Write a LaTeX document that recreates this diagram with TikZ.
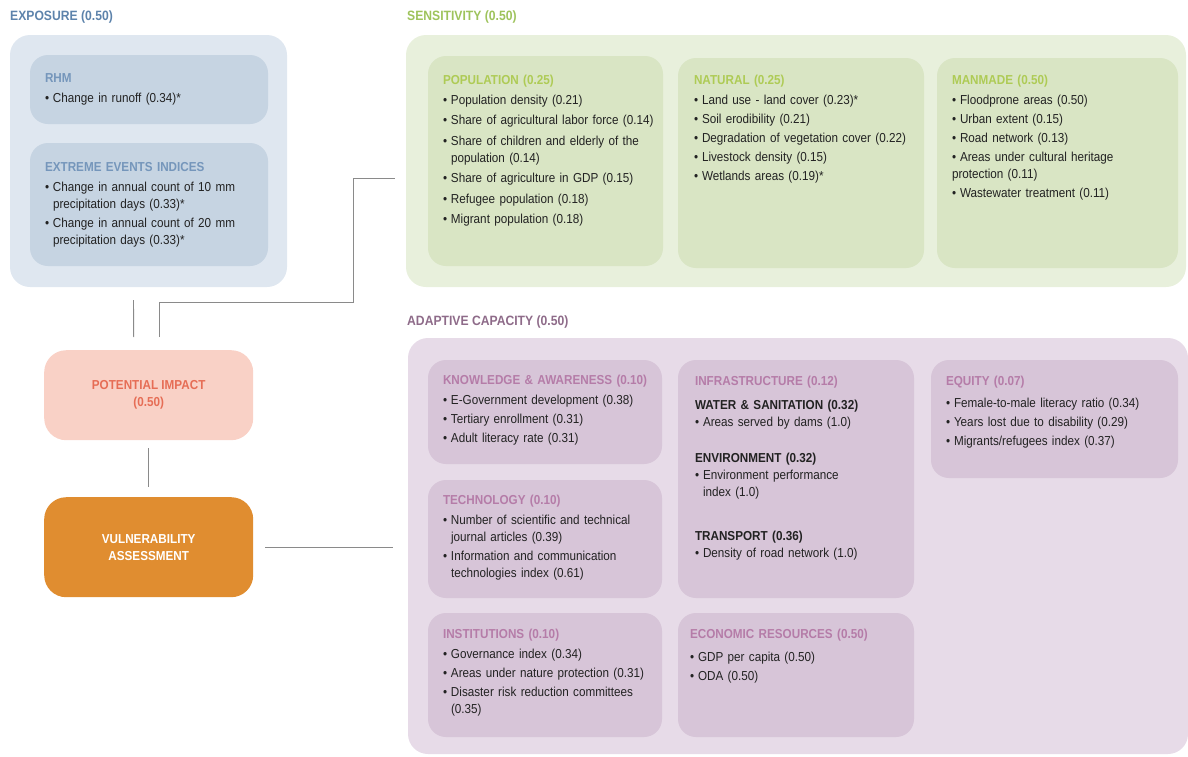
\documentclass[tikz,border=0pt]{standalone}
\usepackage{fontspec}
\setmainfont{Liberation Sans}[FakeStretch=0.9]
\setlength{\parindent}{0pt}
\setlength{\parskip}{0pt}
\definecolor{expoOut}{HTML}{DFE7F0}
\definecolor{expoIn}{HTML}{C6D4E2}
\definecolor{expoTitle}{HTML}{5D83AB}
\definecolor{expoSub}{HTML}{7596BB}
\definecolor{sensOut}{HTML}{E8F0DC}
\definecolor{sensIn}{HTML}{D9E5C4}
\definecolor{sensTitle}{HTML}{9EC35C}
\definecolor{sensSub}{HTML}{AECB55}
\definecolor{adOut}{HTML}{E7DBE8}
\definecolor{adIn}{HTML}{D7C5D8}
\definecolor{adTitle}{HTML}{8E6B89}
\definecolor{adSub}{HTML}{B57CA8}
\definecolor{potFill}{HTML}{F9D1C6}
\definecolor{potText}{HTML}{E66D55}
\definecolor{vulFill}{HTML}{E08D30}
\definecolor{txtc}{HTML}{222222}
\definecolor{connc}{HTML}{8A8A8A}
\newlength{\itemgap}
\setlength{\itemgap}{2pt}
\newcommand{\itm}[1]{\par\hangindent=8pt\hangafter=1\makebox[8pt][l]{\textbullet}#1\par\vspace{\itemgap}}
\newcommand{\itmflat}[1]{\par\makebox[8pt][l]{\textbullet}#1\par\vspace{\itemgap}}
\newcommand{\ttl}[2]{{\bfseries\color{#1}#2}\par\vspace{3pt}}
\tikzset{
  panel/.style={anchor=north west, rounded corners=20pt, inner sep=0pt, outer sep=0pt},
  card/.style={anchor=north west, rounded corners=18pt, inner sep=0pt, outer sep=0pt},
  body/.style={anchor=north west, inner sep=0pt, outer sep=0pt, align=left, text=txtc,
    font=\fontsize{13}{17}\selectfont},
  head/.style={anchor=west, inner sep=0pt, font=\fontsize{13.5}{15}\selectfont\bfseries},
  conn/.style={draw=connc, line width=0.9pt},
  bigbox/.style={anchor=north west, rounded corners=22pt, inner sep=0pt},
  biglabel/.style={font=\fontsize{13}{17}\selectfont\bfseries, align=center, inner sep=0pt}
}
\begin{document}
\begin{tikzpicture}[x=1pt,y=-1pt]
\useasboundingbox (0,0) rectangle (1188,756);

% ---------- EXPOSURE ----------
\node[head, text=expoTitle] (expoH) at (10,17) {EXPOSURE (0.50)};
\node[panel, fill=expoOut, minimum width=277pt, minimum height=252pt] (expo) at (10,35) {};
\node[card, fill=expoIn, minimum width=238pt, minimum height=69pt] (rhm) at (30,55) {};
\node[card, fill=expoIn, minimum width=238pt, minimum height=123pt] (ext) at (30,143) {};
\node[body, text width=215pt] (rhmT) at (45,74) {\ttl{expoSub}{RHM}\itm{Change in runoff (0.34)*}};
\node[body, text width=215pt] (extT) at (45,162) {\ttl{expoSub}{EXTREME EVENTS INDICES}%
\itm{Change in annual count of 10 mm\newline precipitation days (0.33)*}%
\itm{Change in annual count of 20 mm\newline precipitation days (0.33)*}};

% ---------- SENSITIVITY ----------
\node[head, text=sensTitle] (sensH) at (407,17) {SENSITIVITY (0.50)};
\node[panel, fill=sensOut, minimum width=780pt, minimum height=252pt] (sens) at (406,35) {};
\node[card, fill=sensIn, minimum width=235pt, minimum height=210pt] (pop) at (428,56) {};
\node[card, fill=sensIn, minimum width=246pt, minimum height=210pt] (nat) at (678,58) {};
\node[card, fill=sensIn, minimum width=241pt, minimum height=210pt] (man) at (937,58) {};
\node[body, text width=215pt] (popT) at (443,75) {\setlength{\itemgap}{3.5pt}\ttl{sensSub}{POPULATION (0.25)}%
\itm{Population density (0.21)}%
\itm{Share of agricultural labor force (0.14)}%
\itm{Share of children and elderly of the\newline population (0.14)}%
\itm{Share of agriculture in GDP (0.15)}%
\itm{Refugee population (0.18)}%
\itm{Migrant population (0.18)}};
\node[body, text width=225pt] (natT) at (694,75) {\ttl{sensSub}{NATURAL (0.25)}%
\itm{Land use - land cover (0.23)*}%
\itm{Soil erodibility (0.21)}%
\itm{Degradation of vegetation cover (0.22)}%
\itm{Livestock density (0.15)}%
\itm{Wetlands areas (0.19)*}};
\node[body, text width=220pt] (manT) at (952,75) {\ttl{sensSub}{MANMADE (0.50)}%
\itm{Floodprone areas (0.50)}%
\itm{Urban extent (0.15)}%
\itm{Road network (0.13)}%
\itmflat{Areas under cultural heritage\newline protection (0.11)}%
\itm{Wastewater treatment (0.11)}};

% ---------- ADAPTIVE CAPACITY ----------
\node[head, text=adTitle] (adH) at (407,322) {ADAPTIVE CAPACITY (0.50)};
\node[panel, fill=adOut, minimum width=780pt, minimum height=416pt] (adapt) at (408,338) {};
\node[card, fill=adIn, minimum width=234pt, minimum height=104pt] (know) at (428,360) {};
\node[card, fill=adIn, minimum width=234pt, minimum height=118pt] (tech) at (428,480) {};
\node[card, fill=adIn, minimum width=234pt, minimum height=124pt] (inst) at (428,613) {};
\node[card, fill=adIn, minimum width=236pt, minimum height=238pt] (infra) at (678,360) {};
\node[card, fill=adIn, minimum width=236pt, minimum height=124pt] (econ) at (678,613) {};
\node[card, fill=adIn, minimum width=247pt, minimum height=118pt] (equ) at (931,360) {};
\node[body, text width=215pt] (knowT) at (443,375) {\ttl{adSub}{KNOWLEDGE \& AWARENESS (0.10)}%
\itm{E-Government development (0.38)}%
\itm{Tertiary enrollment (0.31)}%
\itm{Adult literacy rate (0.31)}};
\node[body, text width=215pt] (techT) at (443,495) {\ttl{adSub}{TECHNOLOGY (0.10)}%
\itm{Number of scientific and technical\newline journal articles (0.39)}%
\itm{Information and communication\newline technologies index (0.61)}};
\node[body, text width=215pt] (instT) at (443,629) {\ttl{adSub}{INSTITUTIONS (0.10)}%
\itm{Governance index (0.34)}%
\itm{Areas under nature protection (0.31)}%
\itm{Disaster risk reduction committees\newline (0.35)}};
\node[body, text width=215pt] (infraT) at (695,376) {\ttl{adSub}{INFRASTRUCTURE (0.12)}\vspace{4pt}%
{\bfseries WATER \& SANITATION (0.32)}\par
\itm{Areas served by dams (1.0)}\vspace{17pt}%
{\bfseries ENVIRONMENT (0.32)}\par
\itm{Environment performance\newline index (1.0)}\vspace{25pt}%
{\bfseries TRANSPORT (0.36)}\par
\itm{Density of road network (1.0)}};
\node[body, text width=215pt] (econT) at (690,629) {\ttl{adSub}{ECONOMIC RESOURCES (0.50)}\vspace{3pt}%
\itm{GDP per capita (0.50)}%
\itm{ODA (0.50)}};
\node[body, text width=225pt] (equT) at (946,376) {\ttl{adSub}{EQUITY (0.07)}\vspace{2pt}%
\itm{Female-to-male literacy ratio (0.34)}%
\itm{Years lost due to disability (0.29)}%
\itm{Migrants/refugees index (0.37)}};

% ---------- LEFT COLUMN ----------
\node[bigbox, fill=potFill, minimum width=209pt, minimum height=90pt] (pot) at (44,350) {};
\node[biglabel, text=potText] (potL) at (pot.center) {POTENTIAL IMPACT\\(0.50)};
\node[bigbox, fill=vulFill, minimum width=209pt, minimum height=100pt] (vul) at (44,497) {};
\node[biglabel, text=white] (vulL) at (vul.center) {VULNERABILITY\\ASSESSMENT};

% ---------- CONNECTORS ----------
\coordinate (bend) at (353,302);
\draw[conn] ([xshift=-15pt,yshift=-13pt]expo.south) -- ([xshift=-15pt,yshift=13pt]pot.north);
\draw[conn] ([xshift=11pt,yshift=13pt]pot.north) |- (bend) |- ([xshift=-11pt,yshift=-17pt]sens.west);
\draw[conn] ([yshift=-8pt]pot.south) -- ([yshift=10pt]vul.north);
\draw[conn, shorten <=12pt, shorten >=15pt] (vul.east) -- (vul.east -| adapt.west);
\end{tikzpicture}
\end{document}
